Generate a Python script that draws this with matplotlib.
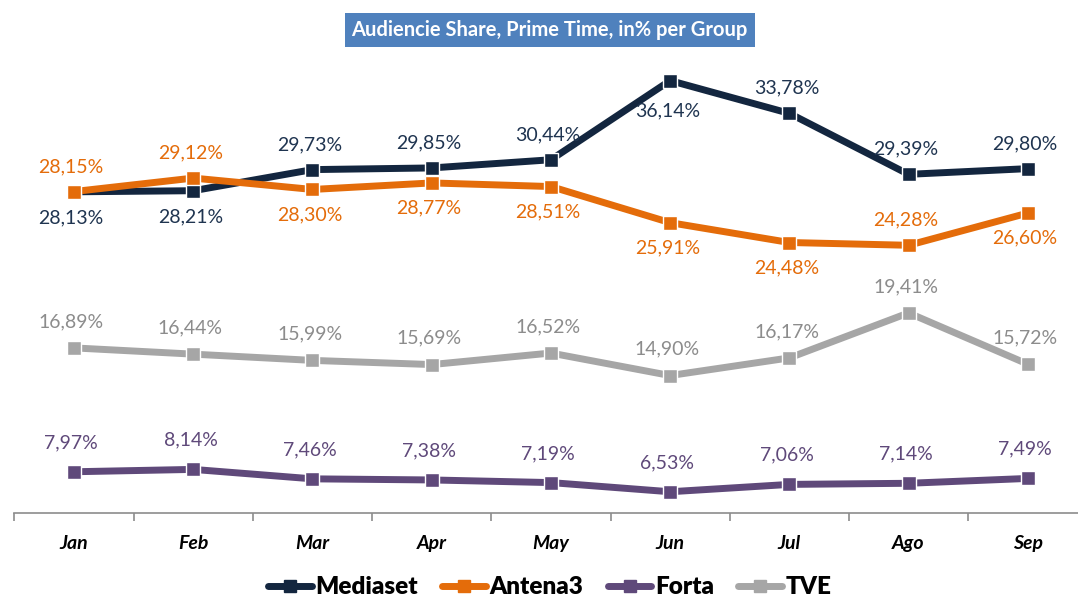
import matplotlib.pyplot as plt
from matplotlib.lines import Line2D
import numpy as np

plt.rcParams['font.family'] = ['Lato', 'DejaVu Sans']

months = ["Jan", "Feb", "Mar", "Apr", "May", "Jun", "Jul", "Ago", "Sep"]
mediaset = [28.13, 28.21, 29.73, 29.85, 30.44, 36.14, 33.78, 29.39, 29.80]
antena3 = [28.15, 29.12, 28.30, 28.77, 28.51, 25.91, 24.48, 24.28, 26.60]
forta = [7.97, 8.14, 7.46, 7.38, 7.19, 6.53, 7.06, 7.14, 7.49]
tve = [16.89, 16.44, 15.99, 15.69, 16.52, 14.90, 16.17, 19.41, 15.72]

# label placement: 1 = above, -1 = below
mediaset_pos = [-1, -1, 1, 1, 1, -1, 1, 1, 1]
antena3_pos = [1, 1, -1, -1, -1, -1, -1, 1, -1]

series = [
    ("Mediaset", mediaset, "#13263f", "#1f3450", mediaset_pos, 3),
    ("Antena3", antena3, "#e46c0a", "#e46c0a", antena3_pos, 4),
    ("Forta", forta, "#5f497a", "#5f497a", [1] * 9, 3),
    ("TVE", tve, "#a6a6a6", "#8c8c8c", [1] * 9, 2),
]
offs = {"Mediaset": (18, 19), "Antena3": (18, 18), "Forta": (21, 18), "TVE": (19, 18)}

fig = plt.figure(figsize=(10.78, 5.98), dpi=100)
ax = fig.add_axes([14.4 / 1078, 85 / 598, 1073 / 1078, 486 / 598])

x = np.arange(len(months))
for name, vals, col, tcol, pos, z in series:
    ax.plot(x, vals, color=col, lw=5, marker="s", ms=10, mfc=col,
            mec="white", mew=1, zorder=z, solid_capstyle="round")
    up, down = offs[name]
    for xi, v, p in zip(x, vals, pos):
        lab = f"{v:.2f}%".replace(".", ",")
        dy = up if p > 0 else -down
        # peak label sits a bit lower so the line doesn't cross it
        if name == "Mediaset" and xi == 5:
            dy -= 3
        ax.annotate(lab, (xi, v), xytext=(-2, dy),
                    textcoords="offset points", ha="center", va="center",
                    color=tcol, fontsize=14, zorder=6)

ax.set_xlim(-0.5, 8.5)
ax.set_ylim(5, 40)
ax.set_yticks([])
for s in ["top", "right", "left"]:
    ax.spines[s].set_visible(False)
ax.spines["bottom"].set_color("#8c8c8c")
ax.spines["bottom"].set_linewidth(1.2)
ax.set_xticks(np.arange(-0.5, 9, 1), minor=False)
ax.set_xticklabels([])
ax.tick_params(axis="x", length=6, color="#8c8c8c", width=1.2)
for xi, m in zip(x, months):
    ax.text(xi, -0.062, m, transform=ax.get_xaxis_transform(), ha="center",
            va="center", fontsize=14, fontweight="bold", style="italic")

fig.text(0.510, 0.950, "Audiencie Share, Prime Time, in% per Group", ha="center",
         va="center", color="white", fontsize=14.5, fontweight="bold",
         bbox=dict(boxstyle="square,pad=0.35", fc="#4f81bd", ec="none"))

handles = [Line2D([], [], color=c, lw=5, marker="s", ms=8, mec=c, solid_capstyle="round")
           for _, _, c, _, _, _ in series]
fig.legend(handles, [s[0] for s in series], loc="center", bbox_to_anchor=(0.51, 0.018),
           ncol=4, frameon=False, prop=dict(size=17.5, weight="heavy"),
           handlelength=1.8, handletextpad=0.15, columnspacing=1.0)

fig.savefig("out.png", dpi=100)
